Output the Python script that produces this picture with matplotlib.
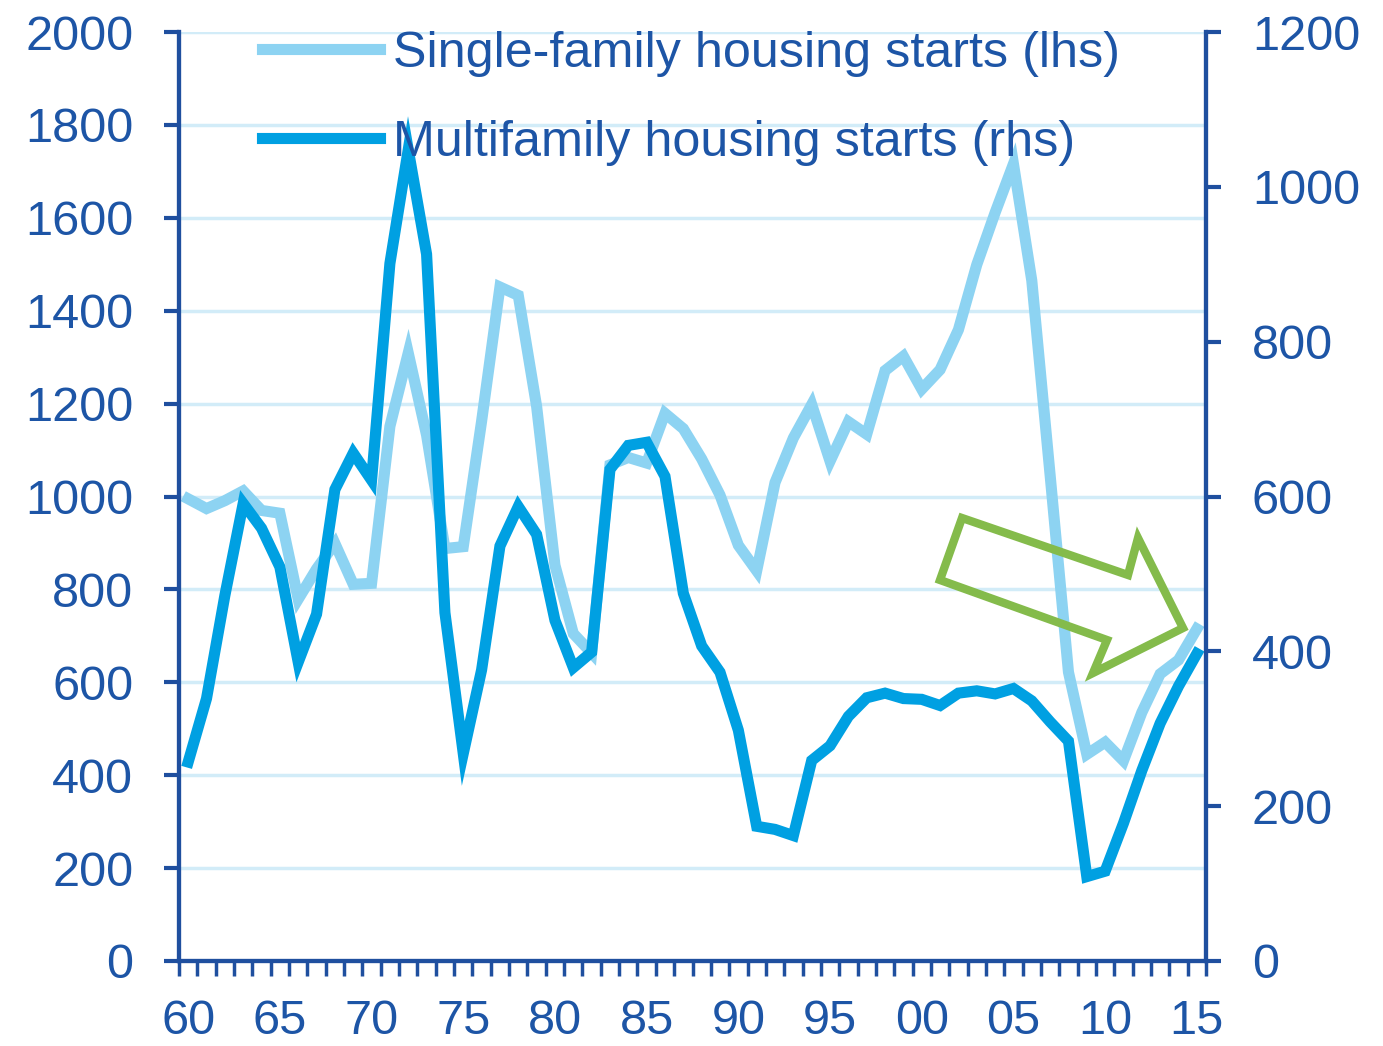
import numpy as np
import matplotlib
matplotlib.use("Agg")
import matplotlib.pyplot as plt
from matplotlib.patches import Polygon
from matplotlib.ticker import FixedLocator

plt.rcParams['font.family'] = ['Liberation Sans', 'DejaVu Sans']

# US housing starts, thousands of units, annual
years = list(range(1960, 2016))
single_family = [995, 974, 991, 1012, 970, 964, 779, 844, 899, 811,
                 813, 1151, 1309, 1132, 888, 892, 1162, 1451, 1433, 1194,
                 852, 705, 663, 1068, 1084, 1072, 1179, 1146, 1081, 1003,
                 895, 840, 1030, 1126, 1198, 1076, 1161, 1134, 1271, 1302,
                 1231, 1273, 1359, 1499, 1611, 1716, 1465, 1046, 622, 445,
                 471, 431, 535, 618, 648, 715]
multifamily = [257, 339, 472, 591, 559, 509, 386, 448, 609, 656,
               621, 901, 1048, 913, 450, 268, 376, 536, 587, 551,
               440, 379, 399, 635, 666, 670, 626, 475, 407, 373,
               298, 174, 170, 162, 259, 278, 316, 340, 346, 339,
               338, 330, 346, 349, 345, 352, 336, 309, 284, 109,
               116, 178, 246, 307, 355, 397]
label_years = [1960, 1965, 1970, 1975, 1980, 1985, 1990, 1995, 2000, 2005, 2010, 2015]
label_text = ['60', '65', '70', '75', '80', '85', '90', '95', '00', '05', '10', '15']

AXIS = '#1f4f9f'
TEXT = '#1d55a6'
LIGHT = '#8dd3f2'
DARK = '#00a0e2'
GRID = '#d2ecf8'

W, H = 1383, 1046
fig = plt.figure(figsize=(W / 100, H / 100), dpi=100)
ax = fig.add_axes([179 / W, (H - 961) / H, (1206 - 179) / W, (961 - 32) / H])
ax2 = ax.twinx()

ax.plot(years, single_family, color=LIGHT, lw=8, solid_joinstyle='miter', label='Single-family housing starts (lhs)')
ax2.plot(years, multifamily, color=DARK, lw=8, solid_joinstyle='miter', label='Multifamily housing starts (rhs)')

ax.set_xlim(1959.5, 2015.5)
ax.set_ylim(0, 2000)
ax2.set_ylim(0, 1200)
ax.set_yticks(range(0, 2001, 200))
ax2.set_yticks(range(0, 1201, 200))
ax.grid(axis='y', color=GRID, lw=2.5)
ax.set_axisbelow(True)

ax.set_xticks(label_years)
ax.set_xticklabels(label_text)
ax.xaxis.set_minor_locator(FixedLocator(np.arange(1959.5, 2016, 1)))
ax.tick_params(axis='x', which='major', length=0, pad=27, labelsize=35, labelcolor=TEXT)
ax.tick_params(axis='x', which='minor', length=11, width=2.5, color=AXIS, direction='out')
ax.tick_params(axis='y', length=11, width=3, color=AXIS, pad=22, labelsize=35, labelcolor=TEXT)
ax2.tick_params(axis='y', length=11, width=3, color=AXIS, pad=22, labelsize=35, labelcolor=TEXT)

for a in (ax, ax2):
    a.spines['top'].set_visible(False)
    for s in ('left', 'right', 'bottom'):
        a.spines[s].set_color(AXIS)
        a.spines[s].set_linewidth(3)

h1, l1 = ax.get_legend_handles_labels()
h2, l2 = ax2.get_legend_handles_labels()
leg = ax2.legend(h1 + h2, l1 + l2, loc='upper left', bbox_to_anchor=(262 / W, 1 - 31 / H),
                 bbox_transform=fig.transFigure, frameon=False, fontsize=36.2,
                 handlelength=2.35, handletextpad=0.25, labelspacing=0.85,
                 borderpad=0, borderaxespad=0)
for t in leg.get_texts():
    t.set_color(TEXT)

# green outlined arrow (pixel positions)
arrow_px = [(962, 518), (1128, 575), (1138, 538), (1183, 628), (1093, 673), (1107, 640), (940, 580)]
arrow_fig = [(x / W, 1 - y / H) for x, y in arrow_px]
fig.patches.append(Polygon(arrow_fig, closed=True, fill=False, edgecolor='#84bb4b',
                           lw=6, joinstyle='miter', transform=fig.transFigure, zorder=10))

fig.savefig('out.png', dpi=100)
